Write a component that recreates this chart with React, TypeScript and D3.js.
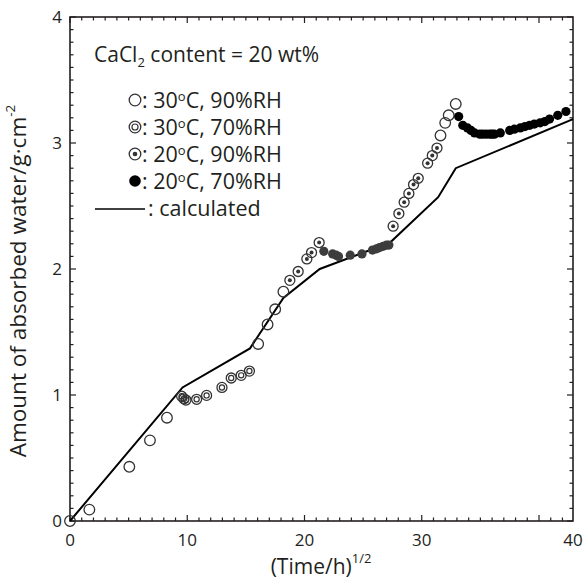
import React from "react";
import * as d3 from "d3";

const X_MAX = 42.9;
const Y_MAX = 4;

const xMajorTicks = [0, 10, 20, 30, 40];
const xTickLabels = ["0", "10", "20", "30", "40"];
const xTickLabelAt = [0, 10, 20, 30, X_MAX];
const yTickValues = [0, 1, 2, 3, 4];

const open30_90: [number, number][] = [
  [0, 0], [1.65, 0.09], [5.06, 0.43], [6.82, 0.64], [8.27, 0.82],
  [16.05, 1.405], [16.85, 1.56], [17.5, 1.68], [18.2, 1.82],
  [31.6, 3.06], [32.0, 3.16], [32.3, 3.22], [32.9, 3.31],
];

const double30_70: [number, number][] = [
  [9.52, 0.99], [9.72, 0.97], [9.89, 0.96], [10.8, 0.966], [11.65, 0.997],
  [12.96, 1.06], [13.75, 1.135], [14.6, 1.156], [15.3, 1.19],
];

const dot20_90: [number, number][] = [
  [18.75, 1.91], [19.46, 1.98], [20.2, 2.08], [20.6, 2.13], [21.25, 2.21],
  [27.56, 2.34], [28.05, 2.44], [28.5, 2.53], [28.9, 2.6], [29.3, 2.67],
  [29.7, 2.72], [30.5, 2.84], [30.9, 2.9], [31.3, 2.96],
];

const filled20_70a: [number, number][] = [
  [21.65, 2.14], [22.4, 2.12], [22.7, 2.11], [22.9, 2.1], [23.9, 2.11],
  [24.9, 2.12], [25.8, 2.15], [26.15, 2.16], [26.4, 2.17], [26.7, 2.18],
  [27.0, 2.19], [27.2, 2.19],
];

const filled20_70b: [number, number][] = [
  [33.15, 3.21], [33.5, 3.14], [33.9, 3.12], [34.2, 3.1], [34.5, 3.08],
  [34.95, 3.07], [35.2, 3.07], [35.5, 3.07], [35.8, 3.07], [36.0, 3.07],
  [36.2, 3.07], [36.7, 3.08], [37.5, 3.1], [37.9, 3.11], [38.4, 3.12],
  [38.8, 3.13], [39.2, 3.14], [39.6, 3.15], [40.1, 3.16], [40.5, 3.17],
  [40.9, 3.19], [41.6, 3.22], [42.3, 3.25],
];

const calculated: [number, number][] = [
  [0, 0], [9.6, 1.06], [15.35, 1.37], [18.2, 1.77], [21.3, 2.0],
  [27.3, 2.21], [31.4, 2.57], [32.9, 2.8], [42.9, 3.19],
];

const legendLabels = [
  ["30", "C, 90%RH"],
  ["30", "C, 70%RH"],
  ["20", "C, 90%RH"],
  ["20", "C, 70%RH"],
];

const W = 584;
const H = 581;
const L = 70, R = 573, T = 17, B = 521;
const FONT = "'Open Sans', 'Noto Sans', sans-serif";
const TXT = "#231f20";
const MK = "#333";

type Kind = "open" | "double" | "dot" | "filled";

function Marker({ cx, cy, kind, r, fill }: { cx: number; cy: number; kind: Kind; r: number; fill?: string }) {
  if (kind === "filled") return <circle cx={cx} cy={cy} r={r} fill={fill || "#000"} />;
  return (
    <g>
      <circle cx={cx} cy={cy} r={r} fill="none" stroke={MK} strokeWidth={1.3} />
      {kind === "double" && <circle cx={cx} cy={cy} r={r * 0.52} fill="none" stroke={MK} strokeWidth={1.2} />}
      {kind === "dot" && <circle cx={cx} cy={cy} r={r * 0.4} fill={MK} />}
    </g>
  );
}

export default function App() {
  const x = d3.scaleLinear().domain([0, X_MAX]).range([L, R]);
  const y = d3.scaleLinear().domain([0, Y_MAX]).range([B, T]);
  const line = d3.line<[number, number]>().x((d) => x(d[0])).y((d) => y(d[1]));

  const xMinor = d3.range(0, Math.floor(X_MAX) + 1, 1);
  const yMinor = d3.range(0, 41, 1).map((v) => v / 10);

  const legendKinds: Kind[] = ["open", "double", "dot", "filled"];

  return (
    <svg width={W} height={H} style={{ position: "absolute", left: 0, top: 0, background: "#fff" }} fontFamily={FONT}>
      {/* ticks */}
      <g stroke={TXT} strokeWidth={1.2}>
        {xMinor.map((v) => {
          const major = xMajorTicks.includes(v);
          const len = major ? 6 : 3.5;
          return (
            <g key={"x" + v}>
              <line x1={x(v)} x2={x(v)} y1={B} y2={B - len} />
              <line x1={x(v)} x2={x(v)} y1={T} y2={T + len} />
            </g>
          );
        })}
        {yMinor.map((v) => {
          const major = Math.abs(v - Math.round(v)) < 1e-9;
          const len = major ? 6 : 3.5;
          return (
            <g key={"y" + v}>
              <line x1={L} x2={L + len} y1={y(v)} y2={y(v)} />
              <line x1={R} x2={R - len} y1={y(v)} y2={y(v)} />
            </g>
          );
        })}
      </g>
      <rect x={L} y={T} width={R - L} height={B - T} fill="none" stroke={TXT} strokeWidth={1.6} />

      {/* tick labels */}
      <g fill={TXT} fontSize={17}>
        {xTickLabels.map((t, i) => (
          <text key={t} x={x(xTickLabelAt[i])} y={B + 25} textAnchor="middle">{t}</text>
        ))}
        {yTickValues.map((v) => (
          <text key={v} x={L - 8} y={y(v) + 6} textAnchor="end">{v}</text>
        ))}
      </g>

      {/* axis titles */}
      <text x={321} y={574} textAnchor="middle" fill={TXT} fontSize={21}>
        (Time/h)<tspan fontSize={13} dy={-11}>1/2</tspan>
      </text>
      <text transform={`translate(26, 281) rotate(-90)`} textAnchor="middle" fill={TXT} fontSize={22.5}>
        Amount of absorbed water/g·cm<tspan fontSize={13.5} dy={-11}>-2</tspan>
      </text>

      {/* calculated line */}
      <path d={line(calculated) || ""} fill="none" stroke="#000" strokeWidth={2} />

      {/* data */}
      {open30_90.map((d, i) => <Marker key={"o" + i} cx={x(d[0])} cy={y(d[1])} kind="open" r={5.3} />)}
      {double30_70.map((d, i) => <Marker key={"d" + i} cx={x(d[0])} cy={y(d[1])} kind="double" r={5} />)}
      {dot20_90.map((d, i) => <Marker key={"t" + i} cx={x(d[0])} cy={y(d[1])} kind="dot" r={5} />)}
      {filled20_70a.map((d, i) => <Marker key={"fa" + i} cx={x(d[0])} cy={y(d[1])} kind="filled" r={4.6} fill="#3d3d3d" />)}
      {filled20_70b.map((d, i) => <Marker key={"fb" + i} cx={x(d[0])} cy={y(d[1])} kind="filled" r={4.6} fill="#000" />)}

      {/* legend */}
      <text x={94} y={62} fill={TXT} fontSize={21}>
        CaCl<tspan fontSize={13} dy={5}>2</tspan><tspan dy={-5}> content = 20 wt%</tspan>
      </text>
      {legendLabels.map((lab, i) => {
        const cy = 100 + i * 27;
        return (
          <g key={"lg" + i}>
            <Marker cx={135} cy={cy} kind={legendKinds[i]} r={5.8} />
            <text x={142} y={cy + 7.5} fill={TXT} fontSize={21.5}>
              : {lab[0]}<tspan fontSize={13} dy={-7}>o</tspan><tspan dy={7}>{lab[1]}</tspan>
            </text>
          </g>
        );
      })}
      <line x1={95} x2={145} y1={209} y2={209} stroke="#000" strokeWidth={1.5} />
      <text x={148} y={216} fill={TXT} fontSize={21.5}>: calculated</text>
    </svg>
  );
}
